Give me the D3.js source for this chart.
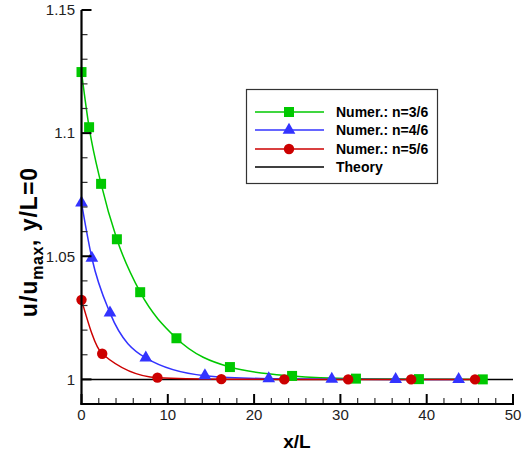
<!DOCTYPE html>
<html><head><meta charset="utf-8">
<script src="https://cdn.jsdelivr.net/npm/d3@7"></script>
<style>body{margin:0;background:#fff}svg{display:block}text{font-family:"Liberation Sans",Arial,sans-serif}</style>
</head><body><svg id="c" width="526" height="457"></svg>
<script>
const seriesNames = ["Numer.: n=3/6","Numer.: n=4/6","Numer.: n=5/6","Theory"];
const colors = ["#00c800","#3333ff","#cc0000","#000000"];
const xGreen = [0,0.88,2.27,4.1,6.8,11.0,17.2,24.4,31.8,39.1,46.5];
const yGreen = [1.1248,1.1024,1.0794,1.0569,1.0354,1.0167,1.0050,1.0014,1.0003,1.0001,1.0];
const xBlue = [0,1.2,3.3,7.45,14.3,21.7,29.0,36.4,43.7];
const yBlue = [1.0717,1.0493,1.0270,1.0087,1.0015,1.0003,1.0001,1.0,1.0];
const xRed = [0,2.4,8.8,16.2,23.5,30.9,38.2,45.6];
const yRed = [1.0323,1.0104,1.0007,1.0001,1.0,1.0,1.0,1.0];
const xTheory = [0,50];
const yTheory = [1,1];
const xTicks = [0,10,20,30,40,50];
const yTicks = [1,1.05,1.1,1.15];

const svg = d3.select("#c");
const x = d3.scaleLinear().domain([0,50]).range([81.5,513]);
const y = d3.scaleLinear().domain([0.99,1.15]).range([404,10]);
const g = svg.append("g");

const line = d3.line().x(d=>x(d[0])).y(d=>y(d[1]));
const smooth = d3.line().x(d=>x(d[0])).y(d=>y(d[1])).curve(d3.curveMonotoneX);
const zip = (a,b)=>a.map((v,i)=>[v,b[i]]);
const series = [zip(xGreen,yGreen), zip(xBlue,yBlue), zip(xRed,yRed)];

g.append("path").attr("d",line(zip(xTheory,yTheory))).attr("fill","none").attr("stroke","#000").attr("stroke-width",1.5);
series.forEach((s,i)=>{
  g.append("path").attr("d",smooth(s)).attr("fill","none").attr("stroke",colors[i]).attr("stroke-width",1.5);
});
const sym = [d3.symbol().type(d3.symbolSquare).size(100), d3.symbol().type(d3.symbolTriangle).size(70), d3.symbol().type(d3.symbolCircle).size(85)];
series.forEach((s,i)=>{
  g.selectAll(null).data(s).enter().append("path")
    .attr("d",sym[i]()).attr("transform",d=>`translate(${x(d[0])},${y(d[1])})`).attr("fill",colors[i]);
});

const yMinor = d3.range(1.0,1.1501,0.01).filter(v=>!yTicks.some(t=>Math.abs(t-v)<1e-6));
const xMinor = d3.range(0,50.001,2).filter(v=>v%10!==0);
const ax = svg.append("g");
ax.selectAll(null).data(yMinor).enter().append("line")
  .attr("x1",x(0)).attr("x2",x(0)+6).attr("y1",d=>y(d)).attr("y2",d=>y(d)).attr("stroke","#333").attr("stroke-width",1.2);
ax.selectAll(null).data(yTicks).enter().append("line")
  .attr("x1",x(0)).attr("x2",x(0)+10).attr("y1",d=>y(d)).attr("y2",d=>y(d)).attr("stroke","#000").attr("stroke-width",2);
ax.selectAll(null).data(xMinor).enter().append("line")
  .attr("x1",d=>x(d)).attr("x2",d=>x(d)).attr("y1",404).attr("y2",398).attr("stroke","#333").attr("stroke-width",1.2);
ax.selectAll(null).data(xTicks).enter().append("line")
  .attr("x1",d=>x(d)).attr("x2",d=>x(d)).attr("y1",404).attr("y2",394).attr("stroke","#000").attr("stroke-width",2);
ax.append("line").attr("x1",x(0)).attr("x2",x(0)).attr("y1",10).attr("y2",405).attr("stroke","#000").attr("stroke-width",2.2);
ax.append("line").attr("x1",x(0)-1).attr("x2",x(50)+1).attr("y1",404).attr("y2",404).attr("stroke","#000").attr("stroke-width",2.2);

ax.selectAll(null).data(yTicks).enter().append("text")
  .attr("x",75).attr("y",d=>y(d)).attr("dy","0.35em").attr("text-anchor","end").attr("font-size",15).attr("fill","#222").text(d=>d===1?"1":String(d));
ax.selectAll(null).data(xTicks).enter().append("text")
  .attr("x",d=>x(d)).attr("y",420).attr("text-anchor","middle").attr("font-size",15).attr("fill","#222").text(d=>d);

svg.append("text").attr("x",297).attr("y",448).attr("text-anchor","middle").attr("font-size",19).attr("font-weight","bold").text("x/L");
const yl = svg.append("text").attr("transform","translate(37,242) rotate(-90)").attr("text-anchor","middle").attr("font-size",23).attr("font-weight","bold").attr("letter-spacing",1);
yl.append("tspan").text("u/u");
yl.append("tspan").attr("dy",6).attr("font-size",16).attr("letter-spacing",0.5).text("max");
yl.append("tspan").attr("dy",-6).text(", y/L=0");

const lg = svg.append("g");
lg.append("rect").attr("x",246.5).attr("y",89.5).attr("width",191).attr("height",94).attr("fill","#fff").attr("stroke","#333").attr("stroke-width",1.2);
const rows = [112,130,149,167];
seriesNames.forEach((n,i)=>{
  lg.append("line").attr("x1",255).attr("x2",324).attr("y1",rows[i]).attr("y2",rows[i]).attr("stroke",colors[i]).attr("stroke-width",1.5);
  if(i<3) lg.append("path").attr("d",sym[i]()).attr("transform",`translate(289,${rows[i]})`).attr("fill",colors[i]);
  lg.append("text").attr("x",336).attr("y",rows[i]).attr("dy","0.36em").attr("font-size",14).attr("font-weight","bold").text(n);
});
</script></body></html>
